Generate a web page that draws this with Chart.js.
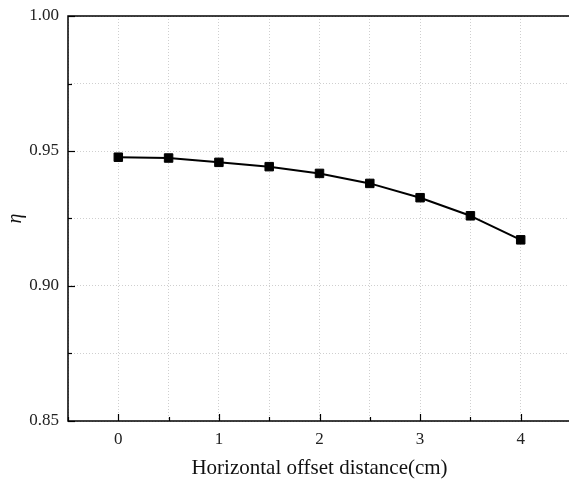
<!DOCTYPE html>
<html lang="en">
<head>
    <meta charset="UTF-8">
    <title>Efficiency vs horizontal offset</title>
    <script src="https://cdn.jsdelivr.net/npm/chart.js"></script>
    <style>
        html, body { margin: 0; padding: 0; background: #fff; overflow: hidden; }
        #wrap { width: 580px; height: 483px; }
    </style>
</head>
<body>
    <div id="wrap"><canvas id="chartCanvas" width="580" height="483"></canvas></div>

    <script>
        // horizontal offset (cm) and transfer efficiency
        const offsets = [0, 0.5, 1, 1.5, 2, 2.5, 3, 3.5, 4];
        const eta = [0.9477, 0.9474, 0.9458, 0.9442, 0.9417, 0.9380, 0.9327, 0.9260, 0.9171];
        const xTickLabels = [0, 1, 2, 3, 4];
        const yTickLabels = [0.85, 0.90, 0.95, 1.00];

        const serif = "'Liberation Serif', 'Times New Roman', serif";

        const isLabelled = (list, v) => list.some(t => Math.abs(t - v) < 1e-6);

        // solid frame and ticks pointing into the plot
        const innerTicks = {
            id: 'innerTicks',
            afterDraw(chart) {
                const { ctx, chartArea: a, scales } = chart;
                ctx.save();
                ctx.setLineDash([]);
                ctx.strokeStyle = '#000';
                ctx.lineWidth = 1.5;
                ctx.beginPath();
                ctx.moveTo(a.right, a.top);
                ctx.lineTo(a.left, a.top);
                ctx.lineTo(a.left, a.bottom);
                ctx.lineTo(a.right, a.bottom);
                ctx.stroke();

                ctx.lineWidth = 1.2;
                scales.x.ticks.forEach(t => {
                    const px = Math.round(scales.x.getPixelForValue(t.value)) + 0.5;
                    const len = isLabelled(xTickLabels, t.value) ? 7 : 4;
                    ctx.beginPath();
                    ctx.moveTo(px, a.bottom);
                    ctx.lineTo(px, a.bottom - len);
                    ctx.stroke();
                });
                scales.y.ticks.forEach(t => {
                    const py = Math.round(scales.y.getPixelForValue(t.value)) + 0.5;
                    const len = isLabelled(yTickLabels, t.value) ? 7 : 4;
                    ctx.beginPath();
                    ctx.moveTo(a.left, py);
                    ctx.lineTo(a.left + len, py);
                    ctx.stroke();
                });
                ctx.restore();
            }
        };

        const ctx = document.getElementById('chartCanvas').getContext('2d');
        new Chart(ctx, {
            type: 'line',
            data: {
                datasets: [{
                    data: offsets.map((x, i) => ({ x: x, y: eta[i] })),
                    borderColor: '#000',
                    backgroundColor: '#000',
                    borderWidth: 2,
                    pointStyle: 'rect',
                    pointRadius: 6,
                    pointBorderWidth: 1,
                    tension: 0,
                }],
            },
            options: {
                responsive: false,
                animation: false,
                layout: { padding: { top: 16, right: 9, left: 0, bottom: 0 } },
                plugins: {
                    legend: { display: false },
                    tooltip: { enabled: false },
                },
                elements: { line: { borderJoinStyle: 'round' } },
                scales: {
                    x: {
                        type: 'linear',
                        min: -0.5,
                        max: 4.5,
                        afterFit: scale => {
                            scale.height = 62;
                            scale.paddingLeft = 0;
                            scale.paddingRight = 0;
                        },
                        // border.dash also sets the dash of the grid lines
                        border: { display: false, dash: [1, 2] },
                        grid: { color: '#cfcfcf', lineWidth: 1, drawTicks: false },
                        ticks: {
                            stepSize: 0.5,
                            padding: 8,
                            color: '#222',
                            font: { family: serif, size: 17 },
                            callback: v => isLabelled(xTickLabels, v) ? String(Math.round(v)) : '',
                        },
                        title: {
                            display: true,
                            text: 'Horizontal offset distance(cm)',
                            color: '#111',
                            font: { family: serif, size: 21 },
                            padding: { top: 0, bottom: 2 },
                        },
                    },
                    y: {
                        min: 0.85,
                        max: 1.0,
                        afterFit: scale => {
                            scale.width = 68;
                            scale.paddingTop = 0;
                            scale.paddingBottom = 0;
                        },
                        border: { display: false, dash: [1, 2] },
                        grid: { color: '#cfcfcf', lineWidth: 1, drawTicks: false },
                        ticks: {
                            stepSize: 0.025,
                            padding: 9,
                            color: '#222',
                            font: { family: serif, size: 17 },
                            callback: v => isLabelled(yTickLabels, v) ? v.toFixed(2) : '',
                        },
                        title: {
                            display: true,
                            text: 'η',
                            color: '#111',
                            font: { family: serif, size: 20, style: 'italic' },
                            padding: { top: 4, bottom: 0 },
                        },
                    },
                },
            },
            plugins: [innerTicks],
        });
    </script>
</body>
</html>
